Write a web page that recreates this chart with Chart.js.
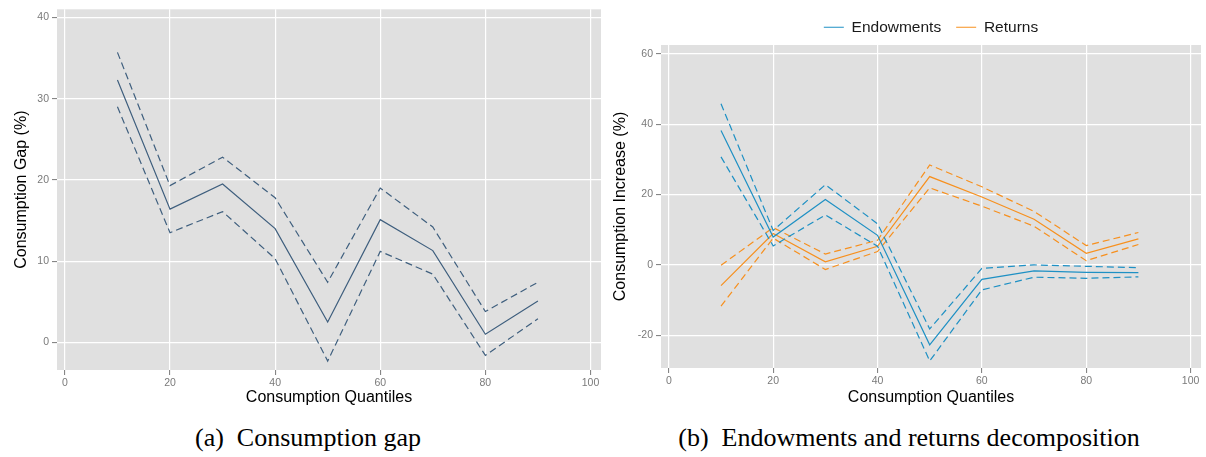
<!DOCTYPE html>
<html>
<head>
<meta charset="utf-8">
<script src="https://cdn.jsdelivr.net/npm/chart.js@4.4.1/dist/chart.umd.min.js"></script>
<style>
  body { margin: 0; background: #fff; width: 1206px; height: 457px; overflow: hidden; position: relative; }
  canvas { position: absolute; top: 0; }
  #left  { left: 0; }
  #right { left: 603px; }
  .cap { position: absolute; top: 423px; font-family: 'Liberation Serif', 'Times New Roman', serif;
         font-size: 26px; color: #000; white-space: pre; text-align: center; }
</style>
</head>
<body>
<canvas id="left" width="603" height="410"></canvas>
<canvas id="right" width="603" height="410"></canvas>
<div class="cap" style="left:0;width:616px">(a)  Consumption gap</div>
<div class="cap" style="left:603px;width:612px">(b)  Endowments and returns decomposition</div>

<script>
// ---- data ----
const QUANTILES = [10, 20, 30, 40, 50, 60, 70, 80, 90];

// (a) consumption gap with band
const GAP_MID = [32.3, 16.4, 19.5, 14.0, 2.5, 15.1, 11.3, 1.0, 5.1];
const GAP_HI  = [35.7, 19.3, 22.8, 17.8, 7.4, 19.0, 14.2, 3.8, 7.4];
const GAP_LO  = [29.0, 13.5, 16.1, 10.3, -2.3, 11.2, 8.4, -1.6, 2.9];

// (b) decomposition
const ENDOW_MID = [38.2, 7.9, 18.6, 8.4, -22.7, -4.1, -1.7, -2.1, -2.2];
const ENDOW_HI  = [45.8, 9.8, 22.8, 11.7, -18.2, -1.0, 0.0, -0.4, -0.8];
const ENDOW_LO  = [30.7, 5.4, 14.2, 5.3, -27.3, -7.1, -3.5, -3.8, -3.4];
const RET_MID   = [-5.9, 8.9, 0.9, 5.3, 25.1, 19.3, 13.0, 3.3, 7.4];
const RET_HI    = [-0.1, 10.6, 3.1, 7.0, 28.4, 22.2, 15.2, 5.5, 9.2];
const RET_LO    = [-11.7, 7.6, -1.3, 3.8, 21.9, 16.7, 11.0, 1.2, 5.8];

const X_TICKS = [0, 20, 40, 60, 80, 100];

const GRAY_BG  = '#e0e0e0';
const TICK_CLR = '#7a7a7a';
const SLATE    = '#3f5f7e';
const BLUE     = '#1e90c4';
const ORANGE   = '#f7901e';

function pts(ys) { return QUANTILES.map((x, i) => ({ x: x, y: ys[i] })); }

function line(label, ys, color, dashed) {
  return {
    label: label, data: pts(ys), borderColor: color, backgroundColor: color,
    borderWidth: 1.2, borderDash: dashed ? [7, 4] : [], pointRadius: 0,
    tension: 0, fill: false
  };
}

// gray panel behind the plot
const panelBg = {
  id: 'panelBg',
  beforeDraw(chart) {
    const { ctx, chartArea: a } = chart;
    ctx.save();
    ctx.fillStyle = GRAY_BG;
    ctx.fillRect(a.left, a.top, a.right - a.left, a.bottom - a.top);
    ctx.restore();
  }
};

function scales(yMin, yMax, yStep, yTitle, yWidth, yTitlePad, xHeight) {
  const tickFont = { family: 'Liberation Sans, Arial, sans-serif', size: 10.5 };
  const titleFont = { family: 'Liberation Sans, Arial, sans-serif', size: 16 };
  return {
    x: {
      type: 'linear', min: -1.5, max: 102,
      afterBuildTicks: s => { s.ticks = X_TICKS.map(v => ({ value: v })); },
      afterFit: s => { s.height = xHeight; },
      grid: { color: '#ffffff', lineWidth: 1.2, tickColor: TICK_CLR, tickLength: 5, tickWidth: 1 },
      border: { display: false },
      ticks: { font: tickFont, color: TICK_CLR, padding: 2, maxRotation: 0 },
      title: { display: true, text: 'Consumption Quantiles', font: titleFont, color: '#000',
               padding: { top: 0, bottom: 3 } }
    },
    y: {
      min: yMin, max: yMax,
      afterFit: s => { s.width = yWidth; },
      grid: { color: '#ffffff', lineWidth: 1.2, tickColor: TICK_CLR, tickLength: 5, tickWidth: 1 },
      border: { display: false },
      ticks: { stepSize: yStep, includeBounds: false, font: tickFont, color: TICK_CLR, padding: 3 },
      title: { display: true, text: yTitle, font: titleFont, color: '#000',
               padding: { top: yTitlePad, bottom: 0 } }
    }
  };
}

new Chart(document.getElementById('left'), {
  type: 'line',
  data: {
    datasets: [
      line('Gap', GAP_MID, SLATE, false),
      line('Gap upper', GAP_HI, SLATE, true),
      line('Gap lower', GAP_LO, SLATE, true)
    ]
  },
  options: {
    responsive: false, animation: false, parsing: true,
    layout: { padding: { top: 8, right: 2, left: 0, bottom: 0 } },
    plugins: { legend: { display: false }, tooltip: { enabled: false } },
    scales: scales(-3.4, 41, 10, 'Consumption Gap (%)', 57, 12, 40)
  },
  plugins: [panelBg]
});

new Chart(document.getElementById('right'), {
  type: 'line',
  data: {
    datasets: [
      line('Endowments', ENDOW_MID, BLUE, false),
      line('Endowments upper', ENDOW_HI, BLUE, true),
      line('Endowments lower', ENDOW_LO, BLUE, true),
      line('Returns', RET_MID, ORANGE, false),
      line('Returns upper', RET_HI, ORANGE, true),
      line('Returns lower', RET_LO, ORANGE, true)
    ]
  },
  options: {
    responsive: false, animation: false,
    layout: { padding: { top: 4.5, right: 5, left: 0, bottom: 0 } },
    plugins: {
      legend: {
        position: 'top', fullSize: false,
        labels: {
          usePointStyle: true, pointStyle: 'line', pointStyleWidth: 20, boxWidth: 20,
          padding: 15, color: '#1a1a1a',
          font: { family: 'Liberation Sans, Arial, sans-serif', size: 15.5 },
          filter: item => item.text === 'Endowments' || item.text === 'Returns'
        }
      },
      tooltip: { enabled: false }
    },
    scales: scales(-29.3, 62.5, 20, 'Consumption Increase (%)', 58, 8.4, 42)
  },
  plugins: [panelBg]
});
</script>
</body>
</html>
